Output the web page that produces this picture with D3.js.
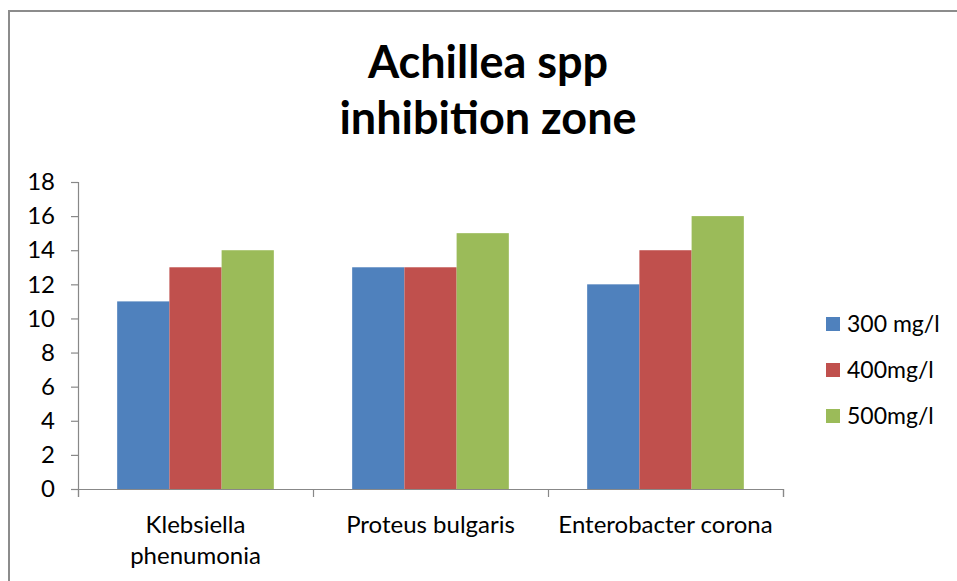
<!DOCTYPE html>
<html lang="en">
<head>
<meta charset="utf-8">
<title>Achillea spp inhibition zone</title>
<script src="https://cdn.jsdelivr.net/npm/d3@7"></script>
<style>
  body { margin: 0; background: #fff; }
  text { font-family: Lato, "Open Sans", sans-serif; fill: #000; }
</style>
</head>
<body>
<svg id="chart" width="957" height="581"></svg>
<script>
// chart data
var categories = ["Klebsiella\nphenumonia", "Proteus bulgaris", "Enterobacter corona"];
var seriesNames = ["300 mg/l", "400mg/l", "500mg/l"];
var v300 = [11, 13, 12];
var v400 = [13, 13, 14];
var v500 = [14, 15, 16];
var yTicks = [0, 2, 4, 6, 8, 10, 12, 14, 16, 18];
var titleLines = ["Achillea spp", "inhibition zone"];

var series = [v300, v400, v500];
var colors = ["#4F81BD", "#C0504D", "#9BBB59"];

var svg = d3.select("#chart");

// outer frame, runs off the right and bottom edges
svg.append("rect")
  .attr("x", 9).attr("y", 11)
  .attr("width", 1000).attr("height", 700)
  .attr("fill", "none")
  .attr("stroke", "#8c8c8c")
  .attr("stroke-width", 2);

// title
svg.selectAll("text.title")
  .data(titleLines)
  .enter()
  .append("text")
  .attr("class", "title")
  .attr("x", 488)
  .attr("y", function(d, i) { return 78 + i * 56; })
  .attr("text-anchor", "middle")
  .style("font-size", "45px")
  .style("font-weight", "bold")
  .text(function(d) { return d; });

var x = d3.scaleBand()
  .domain(d3.range(categories.length))
  .range([78, 783]);

var xs = d3.scaleBand()
  .domain(d3.range(series.length))
  .range([0, x.bandwidth()])
  .paddingOuter(0.75)
  .paddingInner(0);

var y = d3.scaleLinear()
  .domain([0, 18])
  .range([489, 182]);

// bars
var groups = svg.selectAll("g.group")
  .data(categories)
  .enter()
  .append("g")
  .attr("class", "group")
  .attr("transform", function(d, i) { return "translate(" + x(i) + ",0)"; });

groups.selectAll("rect")
  .data(function(d, i) {
    return series.map(function(s, j) { return { s: j, v: s[i] }; });
  })
  .enter()
  .append("rect")
  .attr("x", function(d) { return xs(d.s); })
  .attr("y", function(d) { return y(d.v); })
  .attr("width", xs.bandwidth())
  .attr("height", function(d) { return y(0) - y(d.v); })
  .attr("fill", function(d) { return colors[d.s]; });

// y axis
var yAxis = svg.append("g")
  .attr("transform", "translate(78,0)")
  .call(d3.axisLeft(y).tickValues(yTicks).tickSize(7).tickPadding(16));

// x axis with ticks at category boundaries
var xAxis = svg.append("g")
  .attr("transform", "translate(0,489)")
  .call(d3.axisBottom(d3.scaleLinear().domain([0, 3]).range([78, 783]))
    .tickValues([0, 1, 2, 3]).tickSize(8).tickFormat(""));

[yAxis, xAxis].forEach(function(a) {
  a.select(".domain").attr("stroke", "#888").attr("stroke-width", 1.2);
  a.selectAll(".tick line").attr("stroke", "#888").attr("stroke-width", 1.2);
});
yAxis.selectAll(".tick text")
  .style("font-size", "24px")
  .style("font-family", "Lato, sans-serif")
  .attr("fill", "#000");

// category labels
svg.selectAll("text.cat")
  .data(categories)
  .enter()
  .append("text")
  .attr("class", "cat")
  .attr("text-anchor", "middle")
  .style("font-size", "24px")
  .each(function(d, i) {
    var t = d3.select(this);
    d.split("\n").forEach(function(line, k) {
      t.append("tspan")
        .attr("x", x(i) + x.bandwidth() / 2)
        .attr("y", 533 + k * 31)
        .text(line);
    });
  });

// legend
var legend = svg.selectAll("g.legend")
  .data(seriesNames)
  .enter()
  .append("g")
  .attr("class", "legend")
  .attr("transform", function(d, i) { return "translate(826," + (317 + i * 46) + ")"; });

legend.append("rect")
  .attr("width", 14).attr("height", 14)
  .attr("fill", function(d, i) { return colors[i]; });

legend.append("text")
  .attr("x", 21)
  .attr("y", 15)
  .style("font-size", "23px")
  .text(function(d) { return d; });
</script>
</body>
</html>
